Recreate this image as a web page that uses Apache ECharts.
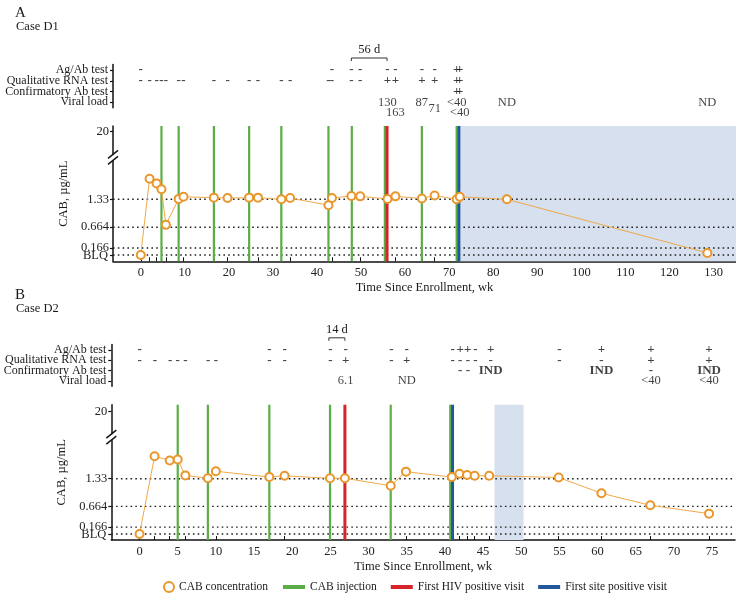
<!DOCTYPE html>
<html><head><meta charset="utf-8">
<script src="https://cdn.jsdelivr.net/npm/echarts@6/dist/echarts.min.js"></script>
<style>html,body{margin:0;padding:0;background:#fff}#c{width:736px;height:595px}</style>
</head><body><div id="c"></div>
<script>
// ---------- Panel A (Case D1) ----------
const aWeeks = [0,2,3.6,4.7,5.7,8.6,9.7,16.6,19.7,24.6,26.6,31.9,33.9,42.6,43.4,47.8,49.8,56.0,57.8,63.8,66.7,71.7,72.4,83.1,128.6];
const aCab   = [0,1.82,1.71,1.57,0.72,1.34,1.39,1.37,1.36,1.37,1.37,1.33,1.36,1.19,1.36,1.41,1.40,1.34,1.40,1.35,1.42,1.33,1.39,1.33,0.05];
const aInjections = [4.7,8.6,16.6,24.6,31.9,42.6,47.9,55.4,63.8,71.7];
const aFirstHivPositive = [55.9];
const aFirstSitePositive = [72.2];
const aShade = [72.2, 135.1];
const aAgAb = [[0,'-'],[43.4,'-'],[47.8,'-'],[49.8,'-'],[56.0,'-'],[57.8,'-'],[63.8,'-'],[66.7,'-'],[71.7,'+'],[72.4,'+']];
const aRna = [[0,'-'],[2,'-'],[3.6,'-'],[4.7,'-'],[5.7,'-'],[8.6,'-'],[9.7,'-'],[16.6,'-'],[19.7,'-'],[24.6,'-'],[26.6,'-'],[31.9,'-'],[33.9,'-'],[42.6,'-'],[43.4,'-'],[47.8,'-'],[49.8,'-'],[56.0,'+'],[57.8,'+'],[63.8,'+'],[66.7,'+'],[71.7,'+'],[72.4,'+']];
const aConfirm = [[71.7,'+'],[72.4,'+']];
const aViral = [[56.0,'130'],[57.8,'163'],[63.8,'87'],[66.7,'71'],[71.7,'<40'],[72.4,'<40'],[83.1,'ND'],[128.6,'ND']];
const aBracket = [47.8, 55.9];
const aBracketText = '56 d';
const aXTicks = [0,10,20,30,40,50,60,70,80,90,100,110,120,130];

// ---------- Panel B (Case D2) ----------
const bWeeks = [0,1.97,3.95,5.0,6.0,8.95,10,17,19,24.95,26.9,32.9,34.9,40.9,41.9,42.9,43.9,45.8,54.9,60.5,66.9,74.6];
const bCab   = [0,1.87,1.77,1.79,1.41,1.34,1.51,1.37,1.40,1.34,1.34,1.16,1.50,1.37,1.45,1.42,1.40,1.40,1.36,0.98,0.69,0.49];
const bInjections = [5.0,8.95,17,24.95,32.9,40.7];
const bFirstHivPositive = [26.9];
const bFirstSitePositive = [41.0];
const bShade = [46.5, 50.3];
const bAgAb = [[0,'-'],[17,'-'],[19,'-'],[25,'-'],[27,'-'],[33,'-'],[35,'-'],[41,'-'],[42,'+'],[43,'+'],[44,'-'],[46,'+'],[55,'-'],[60.5,'+'],[67,'+'],[74.6,'+']];
const bRna = [[0,'-'],[2,'-'],[4,'-'],[5,'-'],[6,'-'],[9,'-'],[10,'-'],[17,'-'],[19,'-'],[25,'-'],[27,'+'],[33,'-'],[35,'+'],[41,'-'],[42,'-'],[43,'-'],[44,'-'],[46,'-'],[55,'-'],[60.5,'-'],[67,'+'],[74.6,'+']];
const bConfirm = [[42,'-'],[43,'-'],[46,'IND'],[60.5,'IND'],[67,'-'],[74.6,'IND']];
const bViral = [[27,'6.1'],[35,'ND'],[67,'<40'],[74.6,'<40']];
const bBracket = [24.8, 26.9];
const bBracketText = '14 d';
const bXTicks = [0,5,10,15,20,25,30,35,40,45,50,55,60,65,70,75];

// ---------- shared ----------
const rowNames = ['Ag/Ab test','Qualitative RNA test','Confirmatory Ab test','Viral load'];
const yTickValues = [0, 0.166, 0.664, 1.33, 2.95];
const yTickLabels = ['BLQ','0.166','0.664','1.33','20'];
const refLines = [0, 0.166, 0.664, 1.33];
const yBreakAt = 2.33;

const FONT = '"Liberation Serif", "DejaVu Serif", serif';
const C_ORANGE = '#E9962B', C_LINE = '#EFA94A', C_GREEN = '#5BAD47', C_RED = '#D7242B', C_BLUE = '#22589A', C_SHADE = '#D6E0EE';

const panels = [
  {letter:'A', caseName:'Case D1', weeks:aWeeks, cab:aCab, inj:aInjections, hiv:aFirstHivPositive, site:aFirstSitePositive, shade:aShade,
   rows:[aAgAb,aRna,aConfirm,aViral], bracket:aBracket, bracketText:aBracketText, xTicks:aXTicks,
   xMin:-6.3, xMax:135.1, yMin:-0.15, yMax:3.08, left:113, width:623, annTop:64.6, annH:43.1, plotTop:126, plotH:135.3, titleTop:1},
  {letter:'B', caseName:'Case D2', weeks:bWeeks, cab:bCab, inj:bInjections, hiv:bFirstHivPositive, site:bFirstSitePositive, shade:bShade,
   rows:[bAgAb,bRna,bConfirm,bViral], bracket:bBracket, bracketText:bBracketText, xTicks:bXTicks,
   xMin:-3.7, xMax:78, yMin:-0.144, yMax:3.11, left:111.3, width:623.7, annTop:344.6, annH:41.7, plotTop:404.7, plotH:135.3, titleTop:283}
];

const option = {
  animation:false,
  textStyle:{fontFamily:FONT, color:'#1a1a1a'},
  title:[], grid:[], xAxis:[], yAxis:[], series:[],
  legend:[
    {data:[{name:'CAB concentration', icon:'emptyCircle'}], left:158, top:576, itemWidth:10, itemHeight:10,
     itemStyle:{borderWidth:2}, textStyle:{fontFamily:FONT, fontSize:11.5, color:'#1a1a1a'}, selectedMode:false},
    {data:['CAB injection','First HIV positive visit','First site positive visit'], left:278, top:576, icon:'rect',
     itemWidth:22, itemHeight:4, itemGap:14, textStyle:{fontFamily:FONT, fontSize:11.5, color:'#1a1a1a'}, selectedMode:false}
  ]
};

// vertical stagger for crowded viral-load labels (computed from week gaps)
function staggerShifts(list, row){
  let prevX = -Infinity, prevShift = false;
  return list.map(([x]) => {
    const gap = x - prevX;
    const close = row === 3 && gap < 3 && !prevShift;
    prevShift = close; prevX = x;
    return close ? (gap < 2 ? 10 : 6) : 0;
  });
}

function vlines(name, xs, color, width, gi, p){
  return {type:'custom', name, xAxisIndex:gi, yAxisIndex:gi, data:xs.map(x=>[x, 0]), silent:true, z:3,
    itemStyle:{color}, encode:{x:0, y:1},
    renderItem:(params, api)=>{
      const x = api.value(0);
      const p1 = api.coord([x, p.yMin]), p2 = api.coord([x, p.yMax]);
      return {type:'line', shape:{x1:p1[0], y1:p1[1], x2:p2[0], y2:p2[1]}, style:{stroke:color, lineWidth:width}};
    }};
}

panels.forEach((p, i) => {
  const ai = i*2, pi = i*2+1;
  option.title.push({text:p.letter, left:10, top:p.titleTop, textStyle:{fontFamily:FONT, fontSize:15, fontWeight:'normal', color:'#1a1a1a'}});
  option.title.push({text:p.caseName, left:11, top:p.titleTop+14, textStyle:{fontFamily:FONT, fontSize:12.5, fontWeight:'normal', color:'#1a1a1a'}});
  option.grid.push({left:p.left, top:p.annTop, width:p.width, height:p.annH, outerBoundsMode:'none', containLabel:false});
  option.grid.push({left:p.left, top:p.plotTop, width:p.width, height:p.plotH, outerBoundsMode:'none', containLabel:false});
  option.xAxis.push({type:'value', gridIndex:ai, min:p.xMin, max:p.xMax, show:false});
  option.xAxis.push({type:'value', gridIndex:pi, min:p.xMin, max:p.xMax,
    axisLine:{show:true, onZero:false, lineStyle:{color:'#111', width:1.5}},
    axisTick:{show:true, inside:true, length:4, customValues:p.weeks, lineStyle:{color:'#111', width:1}},
    axisLabel:{customValues:p.xTicks, margin:5, fontFamily:FONT, fontSize:12.5, color:'#222', hideOverlap:false},
    splitLine:{show:false},
    name:'Time Since Enrollment, wk', nameLocation:'middle', nameGap:20,
    nameTextStyle:{fontFamily:FONT, fontSize:12.5, color:'#1a1a1a'}});
  option.yAxis.push({type:'category', gridIndex:ai, data:rowNames, inverse:true,
    axisLine:{show:true, onZero:false, lineStyle:{color:'#111', width:1.5}},
    axisTick:{show:true, alignWithLabel:true, interval:0, length:3, lineStyle:{color:'#111', width:1.2}},
    axisLabel:{interval:0, hideOverlap:false, margin:5, fontFamily:FONT, fontSize:12, color:'#1a1a1a'}, splitLine:{show:false}});
  option.yAxis.push({type:'value', gridIndex:pi, min:p.yMin, max:p.yMax,
    axisLine:{show:true, onZero:false, lineStyle:{color:'#111', width:1.5}},
    axisTick:{show:true, length:3, customValues:yTickValues, lineStyle:{color:'#111', width:1.2}},
    axisLabel:{customValues:yTickValues.slice(1), hideOverlap:false, margin:4, fontFamily:FONT, fontSize:12.5, color:'#222',
      formatter:v=>{const k = yTickValues.findIndex(t=>Math.abs(t-v)<1e-6); return k>=0 ? yTickLabels[k] : '';}},
    splitLine:{show:false},
    name:'CAB, µg/mL', nameLocation:'middle', nameGap:36, nameRotate:90,
    nameTextStyle:{fontFamily:FONT, fontSize:12.5, color:'#1a1a1a'}});

  // shade
  option.series.push({type:'custom', xAxisIndex:pi, yAxisIndex:pi, data:[[p.shade[0], p.shade[1]]], silent:true, z:1,
    encode:{x:[0,1]},
    renderItem:(params, api)=>{
      const a = api.coord([api.value(0), p.yMax]), b = api.coord([api.value(1), p.yMin]);
      return {type:'rect', shape:{x:a[0], y:a[1], width:b[0]-a[0], height:b[1]-a[1]}, style:{fill:C_SHADE}};
    }});
  // dotted reference lines (+ the BLQ tick label at the zero line)
  option.series.push({type:'custom', xAxisIndex:pi, yAxisIndex:pi, data:refLines.map(v=>[p.xMin, v]), silent:true, z:2, clip:false,
    encode:{x:0, y:1},
    renderItem:(params, api)=>{
      const v = api.value(1);
      const a = api.coord([p.xMin, v]), b = api.coord([p.xMax, v]);
      const children = [{type:'line', shape:{x1:a[0], y1:a[1], x2:b[0], y2:b[1]}, style:{stroke:'#222', lineWidth:1.4, lineDash:[1.6,3.2]}}];
      const k = yTickValues.indexOf(v);
      if (k === 0) children.push({type:'text', style:{text:yTickLabels[k], x:a[0]-5, y:a[1]+1, align:'right', verticalAlign:'middle',
        font:'12.5px ' + FONT, fill:'#222'}});
      return {type:'group', children};
    }});
  option.series.push(vlines('CAB injection', p.inj, C_GREEN, 2.2, pi, p));
  option.series.push(vlines('First HIV positive visit', p.hiv, C_RED, 3, pi, p));
  option.series.push(vlines('First site positive visit', p.site, C_BLUE, 3, pi, p));
  // CAB concentrations
  option.series.push({type:'line', name:'CAB concentration', xAxisIndex:pi, yAxisIndex:pi, z:5,
    data:p.weeks.map((w,k)=>[w, p.cab[k]]), symbol:'emptyCircle', symbolSize:8,
    lineStyle:{color:C_LINE, width:1}, itemStyle:{color:C_ORANGE, borderColor:C_ORANGE, borderWidth:1.8}});
  // annotation rows
  p.rows.forEach((list, r) => {
    const shifts = staggerShifts(list, r);
    option.series.push({type:'scatter', xAxisIndex:ai, yAxisIndex:ai, data:list.map(([x,t])=>[x, r, t]), symbolSize:1,
      itemStyle:{color:'rgba(0,0,0,0)'}, silent:true, z:6,
      labelLayout:(q)=>({dy:shifts[q.dataIndex], hideOverlap:false}),
      label:{show:true, position:'inside', formatter:q=>q.value[2], fontFamily:FONT,
        fontSize:(r===3 ? 12.5 : 13), fontWeight:(r===3 ? 'normal' : 'bold'), color:'#111'}});
  });
  // bracket
  option.series.push({type:'custom', xAxisIndex:ai, yAxisIndex:ai, data:[[p.bracket[0], p.bracket[1]]], clip:false, silent:true,
    encode:{x:[0,1]},
    renderItem:(params, api)=>{
      const a = api.coord([api.value(0), 0]), c = api.coord([api.value(1), 0]);
      const y = a[1]-12;
      return {type:'group', children:[
        {type:'polyline', shape:{points:[[a[0],y+3],[a[0],y],[c[0],y],[c[0],y+3]]}, style:{stroke:'#333', lineWidth:1, fill:null}},
        {type:'text', style:{text:p.bracketText, x:(a[0]+c[0])/2, y:y-2, align:'center', verticalAlign:'bottom',
          font:'12.5px ' + FONT, fill:'#1a1a1a'}}
      ]};
    }});
});

const chart = echarts.init(document.getElementById('c'), null, {renderer:'canvas'});
chart.setOption(option);

// axis break marks on the concentration axes
const graphics = [];
panels.forEach((p, i) => {
  const pt = chart.convertToPixel({gridIndex:i*2+1}, [p.xMin, yBreakAt]);
  const x = pt[0], y = pt[1];
  graphics.push({type:'rect', shape:{x:x-2, y:y-3, width:4, height:6}, style:{fill:'#fff'}, z:100});
  [-3, 3].forEach(dy => graphics.push({type:'line', shape:{x1:x-5, y1:y+dy+4, x2:x+5, y2:y+dy-4},
    style:{stroke:'#111', lineWidth:1.4}, z:101}));
});
chart.setOption({graphic:graphics});
</script>
</body></html>
